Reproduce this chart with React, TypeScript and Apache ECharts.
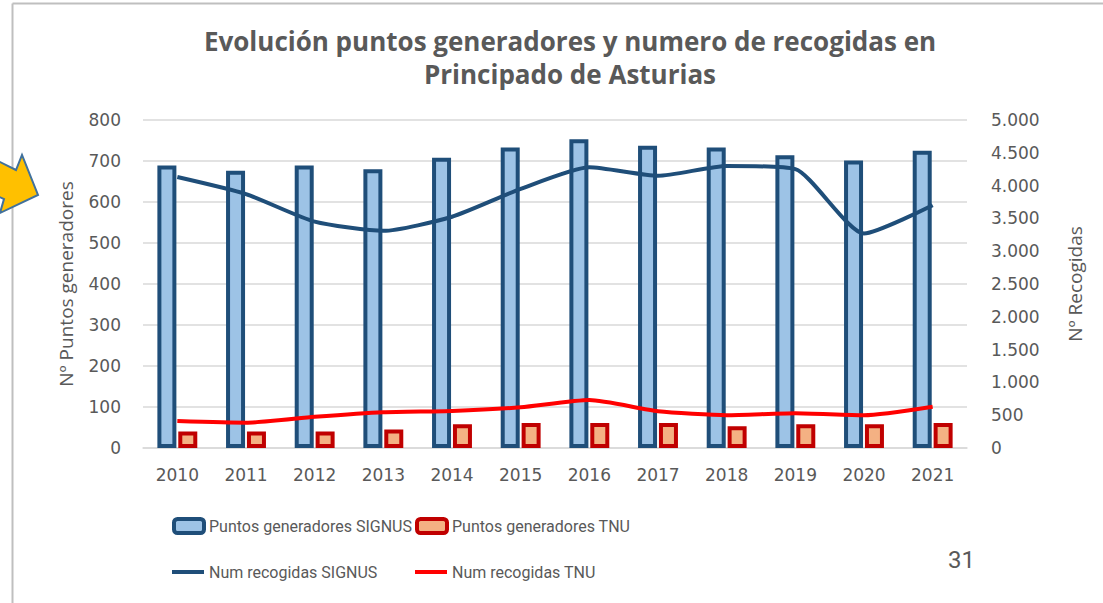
import React, { useEffect, useRef } from "react";
import * as echarts from "echarts";

const years = ["2010", "2011", "2012", "2013", "2014", "2015", "2016", "2017", "2018", "2019", "2020", "2021"];
const puntosSignus = [689, 676, 689, 680, 708, 733, 753, 737, 733, 714, 701, 725];
const puntosTnu = [40, 40, 40, 45, 58, 61, 61, 61, 53, 58, 58, 61];
const recogidasSignus = [4130, 3870, 3450, 3310, 3525, 3950, 4280, 4150, 4300, 4250, 3270, 3700];
const recogidasTnu = [410, 385, 475, 545, 565, 620, 730, 560, 500, 530, 500, 630];

const titleLines = ["Evolución puntos generadores y numero de recogidas en", "Principado de Asturias"];
const names = ["Puntos generadores SIGNUS", "Puntos generadores TNU", "Num recogidas SIGNUS", "Num recogidas TNU"];

const GREY = "#595959";
const fmtThousands = (v: number) => String(v).replace(/\B(?=(\d{3})+(?!\d))/g, ".");

export default function App() {
  const ref = useRef<HTMLDivElement>(null);
  useEffect(() => {
    if (!ref.current) return;
    const chart = echarts.init(ref.current, null, { renderer: "svg" });
    const legendText = { fontFamily: "'Roboto', sans-serif", fontSize: 16, color: GREY };
    chart.setOption({
      animation: false,
      backgroundColor: "#ffffff",
      title: {
        text: titleLines.join("\n"),
        left: 565,
        textAlign: "center",
        top: 19,
        textStyle: { fontFamily: "'Open Sans', sans-serif", fontWeight: "bold", fontSize: 26, color: GREY, lineHeight: 33 },
      },
      grid: { left: 143, right: 136, top: 120, bottom: 155, containLabel: false },
      legend: [
        { data: [{ name: names[0], itemStyle: { color: "#9DC3E6", borderColor: "#1F4E79", borderWidth: 4 } }], left: 167, top: 512, itemWidth: 30, itemHeight: 14, textStyle: legendText },
        { data: [{ name: names[1], itemStyle: { color: "#F4B183", borderColor: "#C00000", borderWidth: 4 } }], left: 410, top: 512, itemWidth: 30, itemHeight: 14, textStyle: legendText },
        { data: [{ name: names[2], icon: "rect", itemStyle: { color: "#1F4E79" } }], left: 167, top: 559, itemWidth: 32, itemHeight: 4, textStyle: legendText },
        { data: [{ name: names[3], icon: "rect", itemStyle: { color: "#FF0000" } }], left: 410, top: 559, itemWidth: 32, itemHeight: 4, textStyle: legendText },
      ],
      xAxis: {
        type: "category",
        data: years,
        axisLine: { lineStyle: { color: "#D9D9D9", width: 1.5 } },
        axisTick: { show: false },
        axisLabel: { color: GREY, fontFamily: "'DejaVu Sans', sans-serif", fontSize: 17, margin: 18 },
      },
      yAxis: [
        {
          type: "value",
          min: 0,
          max: 800,
          interval: 100,
          name: "Nº Puntos generadores",
          nameLocation: "middle",
          nameGap: 68,
          nameTextStyle: { color: GREY, fontFamily: "'Open Sans', sans-serif", fontSize: 19 },
          axisLine: { show: false },
          axisTick: { show: false },
          axisLabel: { color: GREY, fontFamily: "'DejaVu Sans', sans-serif", fontSize: 17, margin: 22 },
          splitLine: { lineStyle: { color: "#D9D9D9", width: 1.5 } },
        },
        {
          type: "value",
          min: 0,
          max: 5000,
          interval: 500,
          position: "right",
          name: "Nº Recogidas",
          nameLocation: "middle",
          nameGap: 98,
          nameTextStyle: { color: GREY, fontFamily: "'Open Sans', sans-serif", fontSize: 19 },
          axisLine: { show: false },
          axisTick: { show: false },
          axisLabel: { color: GREY, fontFamily: "'DejaVu Sans', sans-serif", fontSize: 17, margin: 24, formatter: (v: number) => fmtThousands(v) },
          splitLine: { show: false },
        },
      ],
      series: [
        {
          name: names[0],
          type: "bar",
          data: puntosSignus,
          barWidth: 19,
          barGap: "10%",
          itemStyle: { color: "#9DC3E6", borderColor: "#1F4E79", borderWidth: 4 },
        },
        {
          name: names[1],
          type: "bar",
          data: puntosTnu,
          barWidth: 19,
          barGap: "10%",
          itemStyle: { color: "#F4B183", borderColor: "#C00000", borderWidth: 4 },
        },
        {
          name: names[2],
          type: "line",
          yAxisIndex: 1,
          data: recogidasSignus,
          symbol: "none",
          smooth: 0.2,
          lineStyle: { color: "#1F4E79", width: 4 },
          itemStyle: { color: "#1F4E79" },
        },
        {
          name: names[3],
          type: "line",
          yAxisIndex: 1,
          data: recogidasTnu,
          symbol: "none",
          smooth: 0.2,
          lineStyle: { color: "#FF0000", width: 4 },
          itemStyle: { color: "#FF0000" },
        },
      ],
      graphic: [
        { type: "line", shape: { x1: 12.5, y1: 3.5, x2: 1103, y2: 3.5 }, style: { stroke: "#BFBFBF", lineWidth: 2 }, z: 1 },
        { type: "line", shape: { x1: 12.5, y1: 3.5, x2: 12.5, y2: 603 }, style: { stroke: "#BFBFBF", lineWidth: 2 }, z: 1 },
        {
          type: "polygon",
          shape: { points: [[-10, 157], [16, 170], [22, 155], [38, 195], [0, 213], [4, 199], [-10, 193]] },
          style: { fill: "#FFC000", stroke: "#41719C", lineWidth: 2 },
          z: 10,
        },
        {
          type: "text",
          left: 948,
          top: 548,
          style: { text: "31", fill: GREY, fontSize: 24, fontFamily: "'Roboto', sans-serif" },
        },
      ],
    });
    return () => chart.dispose();
  }, []);
  return <div ref={ref} style={{ position: "fixed", left: 0, top: 0, width: 1103, height: 603 }} />;
}
